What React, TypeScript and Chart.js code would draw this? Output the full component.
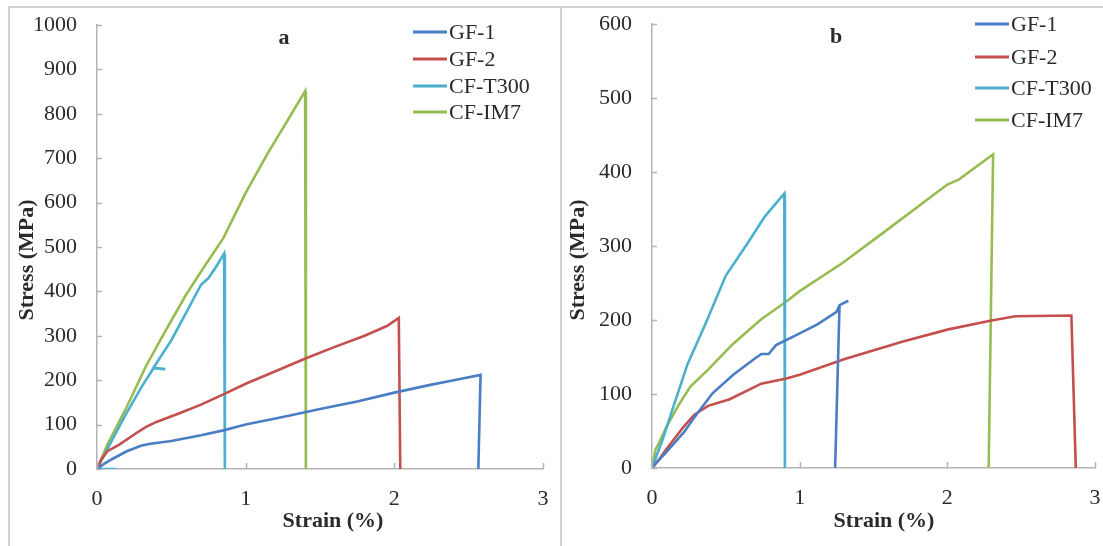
import { useEffect, useRef } from "react";
import { Chart, registerables } from "chart.js";

Chart.register(...registerables);

// ---------- data ----------
const seriesLabels = ["GF-1", "GF-2", "CF-T300", "CF-IM7"];
const seriesColors = ["#4A7EC4", "#C44F4C", "#4BB0CD", "#97BC52"];
const xTickValues = [0, 1, 2, 3];

// Panel a
const aGF1Strain = [0, 0.05, 0.1, 0.2, 0.3, 0.36, 0.5, 0.7, 0.85, 1.0, 1.25, 1.5, 1.75, 2.0, 2.25, 2.4, 2.58, 2.565];
const aGF1Stress = [0, 12, 22, 40, 53, 57, 63, 76, 87, 100, 117, 135, 152, 172, 190, 200, 212, 0];
const aGF2Strain = [0, 0.03, 0.07, 0.15, 0.26, 0.33, 0.4, 0.55, 0.7, 0.85, 1.0, 1.2, 1.41, 1.6, 1.8, 1.95, 2.03, 2.04];
const aGF2Stress = [0, 22, 40, 55, 80, 95, 106, 125, 145, 168, 192, 220, 250, 275, 300, 322, 340, 0];
const aT300Strain = [0.13, 0, 0.07, 0.19, 0.3, 0.38, 0.46, 0.38, 0.5, 0.6, 0.7, 0.75, 0.8, 0.855, 0.86];
const aT300Stress = [0, 0, 45, 121, 185, 227, 225, 228, 290, 352, 415, 430, 455, 485, 0];
const aIM7Strain = [0, 0.07, 0.19, 0.33, 0.45, 0.6, 0.72, 0.85, 1.0, 1.15, 1.3, 1.4, 1.405];
const aIM7Stress = [0, 55, 133, 232, 305, 393, 455, 520, 622, 712, 795, 851, 0];

// Panel b
const bGF1Strain = [0, 0.024, 0.1, 0.215, 0.3, 0.41, 0.55, 0.69, 0.74, 0.79, 0.84, 0.98, 1.12, 1.25, 1.27, 1.33, 1.27, 1.24];
const bGF1Stress = [0, 6, 22, 48, 72, 101, 126, 147, 154, 154, 166, 180, 194, 211, 220, 226, 220, 0];
const bGF2Strain = [0, 0.05, 0.096, 0.215, 0.287, 0.38, 0.526, 0.74, 0.91, 1.0, 1.3, 1.7, 2.0, 2.29, 2.46, 2.84, 2.87];
const bGF2Stress = [0, 12, 25, 56, 72, 84, 93, 114, 121, 126, 147, 171, 187, 199, 205, 206, 0];
const bT300Strain = [0, 0.075, 0.143, 0.24, 0.36, 0.5, 0.645, 0.765, 0.896, 0.9];
const bT300Stress = [0, 40, 82, 140, 194, 260, 303, 340, 371, 0];
const bIM7Strain = [0, 0.024, 0.048, 0.096, 0.18, 0.26, 0.38, 0.55, 0.74, 0.91, 1.0, 1.29, 1.54, 2.0, 2.08, 2.31, 2.28, 2.26];
const bIM7Stress = [0, 25, 34, 55, 85, 110, 133, 168, 201, 225, 239, 277, 314, 383, 390, 424, 0, 0];

const zip = (xs: number[], ys: number[]) => xs.map((x, i) => ({ x, y: ys[i] }));

const FONT = "'Liberation Serif', 'Times New Roman', serif";
const AXIS_COLOR = "#b4b4b4";
const TEXT_COLOR = "#2a2a2a";

const decorPlugin = {
  id: "panelDecor",
  afterDraw(chart: any, _args: any, opts: any) {
    const ctx = chart.ctx;
    const xs = chart.scales.x;
    const ys = chart.scales.y;
    ctx.save();
    // inside tick marks
    ctx.strokeStyle = AXIS_COLOR;
    ctx.lineWidth = 1.5;
    ctx.beginPath();
    xs.ticks.forEach((t: any) => {
      const px = Math.round(xs.getPixelForValue(t.value)) + 0.5;
      ctx.moveTo(px, chart.chartArea.bottom);
      ctx.lineTo(px, chart.chartArea.bottom - 6);
    });
    ys.ticks.forEach((t: any) => {
      const py = Math.round(ys.getPixelForValue(t.value)) + 0.5;
      ctx.moveTo(chart.chartArea.left, py);
      ctx.lineTo(chart.chartArea.left + 5, py);
    });
    ctx.stroke();

    ctx.fillStyle = TEXT_COLOR;
    ctx.textAlign = "center";
    ctx.textBaseline = "middle";
    // panel letter
    ctx.font = `bold 22px ${FONT}`;
    ctx.fillText(opts.title.text, opts.title.x, opts.title.y);
    // x axis title
    ctx.fillText(opts.xTitle.text, opts.xTitle.x, opts.xTitle.y);
    // y axis title
    ctx.save();
    ctx.translate(opts.yTitle.x, opts.yTitle.y);
    ctx.rotate(-Math.PI / 2);
    ctx.fillText(opts.yTitle.text, 0, 0);
    ctx.restore();

    // legend
    ctx.font = `22px ${FONT}`;
    ctx.textAlign = "left";
    chart.data.datasets.forEach((ds: any, i: number) => {
      const y = opts.legend.ys[i];
      ctx.strokeStyle = ds.borderColor;
      ctx.lineWidth = 3;
      ctx.beginPath();
      ctx.moveTo(opts.legend.x0, y);
      ctx.lineTo(opts.legend.x1, y);
      ctx.stroke();
      ctx.fillStyle = TEXT_COLOR;
      ctx.fillText(ds.label, opts.legend.textX, y + 1);
    });
    ctx.restore();
  },
};

type Panel = {
  series: { x: number[]; y: number[] }[];
  yMax: number;
  yWidth: number;
  padRight: number;
  padTop: number;
  xHeight: number;
  decor: any;
};

function PanelChart({ panel, width, height }: { panel: Panel; width: number; height: number }) {
  const ref = useRef<HTMLCanvasElement>(null);
  useEffect(() => {
    if (!ref.current) return;
    const chart = new Chart(ref.current, {
      type: "scatter",
      data: {
        datasets: panel.series.map((s, i) => ({
          label: seriesLabels[i],
          data: zip(s.x, s.y),
          showLine: true,
          borderColor: seriesColors[i],
          backgroundColor: seriesColors[i],
          borderWidth: 2.6,
          pointRadius: 0,
          tension: 0,
        })),
      },
      options: {
        animation: false,
        responsive: false,
        devicePixelRatio: 1,
        layout: { padding: { left: 0, right: panel.padRight, top: panel.padTop, bottom: 0 } },
        plugins: {
          legend: { display: false },
          tooltip: { enabled: false },
          panelDecor: panel.decor,
        } as any,
        scales: {
          x: {
            type: "linear",
            min: 0,
            max: 3,
            afterBuildTicks: (s: any) => {
              s.ticks = xTickValues.map((v) => ({ value: v }));
            },
            afterFit: (s: any) => {
              s.height = panel.xHeight;
              s.paddingLeft = 0;
              s.paddingRight = 0;
            },
            grid: { display: false, drawTicks: false },
            border: { display: true, color: AXIS_COLOR, width: 1.5 },
            ticks: {
              padding: 17,
              color: TEXT_COLOR,
              font: { family: FONT, size: 22 },
              callback: (v: any) => String(v),
            },
          },
          y: {
            type: "linear",
            min: 0,
            max: panel.yMax,
            afterFit: (s: any) => {
              s.width = panel.yWidth;
              s.paddingTop = 0;
              s.paddingBottom = 0;
            },
            grid: { display: false, drawTicks: false },
            border: { display: true, color: AXIS_COLOR, width: 1.5 },
            ticks: {
              stepSize: 100,
              padding: 20,
              color: TEXT_COLOR,
              font: { family: FONT, size: 22 },
              callback: (v: any) => String(v),
            },
          },
        },
      },
      plugins: [decorPlugin],
    });
    return () => chart.destroy();
  }, [panel]);
  return <canvas ref={ref} width={width} height={height} style={{ display: "block", width, height }} />;
}

const panelA: Panel = {
  series: [
    { x: aGF1Strain, y: aGF1Stress },
    { x: aGF2Strain, y: aGF2Stress },
    { x: aT300Strain, y: aT300Stress },
    { x: aIM7Strain, y: aIM7Stress },
  ],
  yMax: 1000,
  yWidth: 97,
  padRight: 17,
  padTop: 25,
  xHeight: 77,
  decor: {
    title: { text: "a", x: 284, y: 38 },
    xTitle: { text: "Strain (%)", x: 333, y: 521 },
    yTitle: { text: "Stress (MPa)", x: 27, y: 260 },
    legend: { x0: 413, x1: 447, textX: 449, ys: [32, 59, 86, 112] },
  },
};

const panelB: Panel = {
  series: [
    { x: bGF1Strain, y: bGF1Stress },
    { x: bGF2Strain, y: bGF2Stress },
    { x: bT300Strain, y: bT300Stress },
    { x: bIM7Strain, y: bIM7Stress },
  ],
  yMax: 600,
  yWidth: 90,
  padRight: 8,
  padTop: 24,
  xHeight: 78,
  decor: {
    title: { text: "b", x: 274, y: 37 },
    xTitle: { text: "Strain (%)", x: 322, y: 521 },
    yTitle: { text: "Stress (MPa)", x: 16, y: 260 },
    legend: { x0: 413, x1: 447, textX: 449, ys: [24, 57, 88, 120] },
  },
};

export default function App() {
  return (
    <div
      style={{
        position: "absolute",
        left: 0,
        top: 0,
        width: 1103,
        height: 546,
        overflow: "hidden",
        background: "#fff",
      }}
    >
      <div
        style={{
          position: "absolute",
          left: 8,
          top: 6,
          width: 1120,
          height: 560,
          borderTop: "2px solid #d2d2d2",
          borderLeft: "2px solid #d2d2d2",
        }}
      />
      <div style={{ position: "absolute", left: 560, top: 6, width: 2, height: 560, background: "#d2d2d2" }} />
      <div style={{ position: "absolute", left: 0, top: 0 }}>
        <PanelChart panel={panelA} width={560} height={546} />
      </div>
      <div style={{ position: "absolute", left: 562, top: 0 }}>
        <PanelChart panel={panelB} width={541} height={546} />
      </div>
    </div>
  );
}
